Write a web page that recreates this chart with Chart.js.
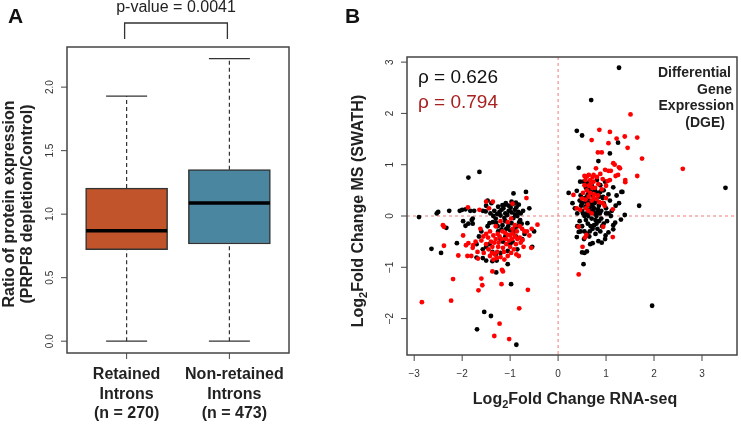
<!DOCTYPE html>
<html lang="en">
<head>
<meta charset="UTF-8">
<title>Retained introns and differential gene expression</title>
<script src="https://cdn.jsdelivr.net/npm/chart.js"></script>
<style>
  body { margin: 0; background: #fff; }
  #wrap { position: relative; width: 741px; height: 424px; overflow: hidden; }
  canvas { position: absolute; top: 0; }
</style>
</head>
<body>
<div id="wrap">
  <canvas id="chartA" width="340" height="424" style="left:0"></canvas>
  <canvas id="chartB" width="401" height="424" style="left:340px"></canvas>
</div>
<script>
const FONT = '"Liberation Sans", Arial, sans-serif';

// ---- panel A: box plot summaries ----
const groupLabels = [['Retained', 'Introns', '(n = 270)'], ['Non-retained', 'Introns', '(n = 473)']];
const whiskerLow = [0.0, 0.0];
const q1 = [0.72, 0.765];
const median = [0.87, 1.087];
const q3 = [1.205, 1.35];
const whiskerHigh = [1.93, 2.225];
const yTicksA = [0, 0.5, 1, 1.5, 2];
const pValueText = 'p-value = 0.0041';

// ---- panel B: log2 fold changes (RNA-seq, MS) ----
const xTicksB = [-3, -2, -1, 0, 1, 2, 3];
const yTicksB = [-2, -1, 0, 1, 2, 3];
const rhoAll = 'ρ = 0.626';
const rhoRed = 'ρ = 0.794';
const dgeLines = ['Differential', 'Gene', 'Expression', '(DGE)'];

const dgeBlack = [
  [-2.9,-0.02],[-2.53,0.05],[-2.5,0.08],[-2.27,0.1],[-2.05,0.1],[-2.0,0.12],[-1.93,0.13],[-1.83,0.1],
  [-1.87,0.75],[-1.64,0.86],[-1.98,-0.1],[-1.93,-0.19],[-1.87,-0.15],[-1.78,-0.15],[-2.33,-0.23],
  [-2.64,-0.64],[-2.44,-0.72],[-2.11,-0.53],[-1.54,-1.87],[-1.4,-1.95],[-1.69,-2.21],[-0.87,-2.51],
  [-0.98,-1.33],[-1.29,-1.1],[-1.05,-0.94],[-1.5,-0.87],[-1.37,-0.88],[-1.28,-0.87],[-1.7,-0.81],[-1.57,-0.82],
  [-1.47,0.30],[-0.93,0.44],[-0.67,0.47],[-0.6,0.15],[-1.75,0.1],[-1.5,0.2],[-1.25,0.18],[-1.18,0.12],
  [-1.1,0.22],[-1.03,0.2],[-0.97,0.28],[-0.9,0.12],[-1.39,0.25],[-1.16,0.21],[-1.09,0.25],[-0.95,0.23],
  [-0.88,0.26],[-1.57,0.1],[-1.51,0.09],
  [-1.35,0.0],[-1.3,-0.05],[-1.27,0.04],[-1.2,0.01],[-1.1,0.05],[-1.03,0.1],[-0.97,0.07],[-0.9,0.03],
  [-0.85,0.0],[-0.83,0.08],[-0.78,0.05],[-1.43,-0.14],[-1.36,-0.12],[-1.29,-0.13],[-1.47,-0.2],
  [-1.78,-0.05],[-1.8,-0.08],[-1.16,-0.18],[-1.1,-0.1],[-1.04,-0.2],[-0.97,-0.14],[-0.91,-0.25],
  [-0.85,-0.2],[-0.79,-0.08],[-0.64,-0.14],[-0.5,-0.3],[-0.54,-0.6],
  [-1.2,-0.45],[-1.15,-0.5],[-1.1,-0.4],[-1.0,-0.55],[-0.95,-0.5],[-0.85,-0.65],[-1.43,-0.55],
  [-1.5,-0.6],[-1.57,-0.65],[-1.37,-0.7],[-1.3,-0.75],[-1.2,-0.72],[-1.05,-0.68],[-0.7,-0.35],
  [-0.75,-0.45],[-1.6,-0.3],[-1.65,-0.4],[-1.7,-0.55],[-1.25,-0.3],[-0.88,-0.4],
  [-1.22,0.08],[-1.14,0.15],[-1.06,0.02],[-0.99,0.16],[-0.93,-0.04],[-0.87,0.17],[-0.81,-0.12],
  [-1.33,0.1],[-1.41,0.05],[-1.26,-0.2],[-1.18,-0.26],[-1.12,-0.04],[-0.93,-0.32],[-1.0,-0.28],
  [-1.08,-0.25],[-0.82,0.22],[-0.76,-0.15],[-0.73,0.1],
  [1.27,2.89],[0.69,2.26],[0.39,1.66],[0.5,1.57],[1.25,1.43],[1.08,1.22],[0.84,1.07],[0.43,0.94],
  [3.49,0.55],[1.69,0.2],[1.96,-1.75],[0.53,-0.94],[0.22,0.45],[1.34,0.47],[1.39,0.02],[1.31,-0.07],
  [1.19,-0.13],[1.15,-0.26],[1.05,-0.32],[0.99,-0.38],[0.98,-0.45],[0.91,-0.52],[0.84,-0.49],
  [0.72,-0.53],[0.67,-0.55],[0.6,-0.69],[0.55,-0.72],[0.5,-0.71],[0.43,-0.31],[0.39,-0.41],
  [0.46,0.67],[0.53,0.67],[0.81,0.70],[0.98,0.67],[1.15,0.56],[1.32,0.47],[0.39,0.49],[0.67,0.54],
  [0.77,0.5],[0.88,0.47],[0.94,0.37],[1.22,0.4],[0.6,0.37],
  [0.45,0.3],[0.5,0.25],[0.55,0.35],[0.6,0.2],[0.65,0.3],[0.7,0.25],[0.75,0.15],[0.8,0.3],[0.85,0.2],
  [0.9,0.1],[0.95,0.25],[1.0,0.15],[1.05,0.05],[0.5,0.1],[0.55,0.0],[0.6,0.05],[0.65,0.12],[0.7,-0.05],
  [0.75,0.05],[0.8,0.0],[0.85,-0.1],[0.9,-0.05],[0.62,-0.15],[0.68,-0.2],[0.75,-0.18],[0.82,-0.25],
  [0.88,-0.3],[0.95,-0.15],[1.02,-0.1],[1.1,0.0],[1.12,0.1],[1.2,0.2],[1.27,0.25],[0.4,0.05],
  [0.35,0.15],[0.3,0.25],[0.45,-0.1],[0.5,-0.2],[0.55,-0.3],[0.6,-0.35],[0.72,0.4],[0.8,0.45],
  [0.68,0.48],[0.58,0.55],[0.62,0.42],[0.7,0.6],[0.88,0.6],[0.78,-0.35],[0.65,-0.4],[0.93,0.35],
  [1.08,0.3],[1.15,-0.18],[0.57,0.18],[0.73,0.1],[0.83,0.13],[0.47,0.4],[0.4,-0.2],[0.6,0.65],
  [0.95,0.5],[1.05,0.42],
  [0.52,0.05],[0.58,-0.08],[0.63,0.0],[0.68,0.08],[0.72,0.18],[0.78,-0.08],[0.82,0.08],[0.87,0.05],
  [0.66,-0.3],[0.72,-0.25],[0.8,-0.15],[0.48,0.2],[0.58,0.28],[0.68,0.2],[0.76,0.25],[0.86,0.38],
  [0.54,-0.45],[0.47,-0.3],[0.92,-0.2],[1.0,0.05]
];

const dgeRed = [
  [-1.88,0.17],[-1.5,0.28],[-1.44,0.15],[-0.95,0.24],[-0.66,0.35],[-2.4,-0.18],[-2.38,-0.21],
  [-1.98,-0.38],[-2.38,-0.58],[-1.92,-0.57],[-1.87,-0.53],[-2.08,-0.77],[-1.89,-0.78],[-1.81,-0.78],
  [-2.19,-1.23],[-2.23,-1.65],[-2.84,-1.68],[-1.77,-0.57],[-1.37,-1.08],[-1.17,-1.05],[-1.15,-1.08],
  [-1.6,-1.22],[-1.58,-1.35],[-1.66,-1.45],[-1.18,-1.33],[-0.63,-1.44],[-0.81,-1.8],[-1.22,-2.1],
  [-1.33,-2.34],[-1.02,-2.4],[-0.43,-0.17],[-0.56,-0.62],[-1.67,-0.83],[-1.36,0.28],[-1.64,0.12],
  [-1.16,-0.3],[-1.1,-0.33],[-1.05,-0.37],[-1.0,-0.38],[-0.95,-0.34],[-0.9,-0.4],[-0.85,-0.45],
  [-0.8,-0.42],[-0.74,-0.47],[-0.7,-0.3],[-0.75,-0.25],[-0.8,-0.2],[-0.9,-0.18],[-1.22,-0.4],
  [-1.3,-0.45],[-1.4,-0.5],[-1.37,-0.6],[-1.33,-0.52],[-1.46,-0.42],[-1.56,-0.4],[-1.6,-0.48],
  [-1.5,-0.55],[-1.25,-0.6],[-1.15,-0.62],[-1.08,-0.55],[-1.0,-0.6],[-0.92,-0.65],[-0.82,-0.78],
  [-0.87,-0.75],[-1.27,-0.7],[-1.32,-0.75],[-1.38,-0.72],[-1.42,-0.78],[-1.28,-0.82],[-1.2,-0.8],
  [-1.12,-0.85],[-1.45,-0.65],[-1.55,-0.72],[-1.72,-0.5],[-1.78,-0.62],[-1.68,-0.7],[-1.62,-0.25],
  [-1.3,-0.2],[-1.2,-0.1],[-1.05,-0.12],[-0.98,-0.05],[-0.65,-0.3],[-0.6,-0.38],[-0.55,-0.25],
  [-0.72,-0.6],[-0.95,-0.25],[-1.42,-0.3],[-1.5,-0.35],
  [-1.26,-0.35],[-1.18,-0.45],[-1.09,-0.45],[-1.02,-0.48],[-0.96,-0.45],[-0.88,-0.55],[-0.78,-0.52],
  [-1.35,-0.38],[-1.24,-0.52],[-1.13,-0.7],[-1.05,-0.78],[-0.98,-0.72],[-1.35,-0.85],[-0.86,-0.3],
  [1.51,1.98],[0.86,1.68],[1.08,1.64],[0.7,1.48],[1.22,1.51],[1.39,1.55],[1.65,1.53],[1.05,1.42],
  [1.45,1.33],[0.83,1.24],[0.91,1.24],[1.75,1.12],[1.15,1.03],[1.18,1.0],[1.27,0.95],[0.79,0.93],
  [0.98,0.9],[1.1,0.88],[1.65,0.78],[2.6,0.92],[1.25,0.8],[0.55,0.78],[0.64,0.8],[0.72,0.76],
  [0.93,0.72],[1.03,0.68],[1.4,0.7],[1.4,0.66],[0.43,-1.14],[0.51,-0.6],[1.14,-0.41],[0.59,-0.37],
  [0.56,-0.42],[0.43,-0.21],[0.94,-0.21],[0.39,0.15],[0.46,0.12],[1.14,0.13],[0.7,0.05],[0.32,0.41],
  [0.5,0.34],[0.57,0.32],[0.64,0.38],[0.7,0.3],[0.8,0.33],[0.86,0.27],[0.93,0.25],[1.0,0.35],
  [0.97,0.2],[0.74,0.8],[0.81,0.76],[0.88,0.82],[0.6,0.77],[0.57,0.70],[0.67,0.70],[0.74,0.67],
  [1.2,0.78],[1.08,0.70],[0.84,0.62],[1.0,0.59],[0.64,0.59],[0.71,0.55],[0.91,0.52],[1.29,0.93],
  [1.05,0.88],[0.6,0.5],[0.67,0.45],[0.75,0.42],[0.55,0.6],[0.62,0.22],[0.77,0.55],[0.52,0.45],
  [0.63,0.1],[0.74,0.35],[0.58,0.15],[0.83,0.4],[0.68,0.62]
];

const boxFill = ['#c1542a', '#4b86a1'];

function line(ctx, x1, y1, x2, y2) {
  ctx.beginPath();
  ctx.moveTo(x1, y1);
  ctx.lineTo(x2, y2);
  ctx.stroke();
}

function vText(ctx, text, x, y, font) {
  ctx.save();
  ctx.translate(x, y);
  ctx.rotate(-Math.PI / 2);
  ctx.font = font;
  ctx.textAlign = 'center';
  ctx.textBaseline = 'middle';
  ctx.fillText(text, 0, 0);
  ctx.restore();
}

// "Log2 ..." with subscript, centred on (0,0) of current transform
function logLabel(ctx, rest) {
  const big = 'bold 16px ' + FONT, small = 'bold 11px ' + FONT;
  ctx.font = big;
  const w1 = ctx.measureText('Log').width;
  const w3 = ctx.measureText(rest).width;
  ctx.font = small;
  const w2 = ctx.measureText('2').width;
  let x = -(w1 + w2 + w3) / 2;
  ctx.textAlign = 'left';
  ctx.textBaseline = 'alphabetic';
  ctx.font = big; ctx.fillText('Log', x, 6); x += w1;
  ctx.font = small; ctx.fillText('2', x, 10); x += w2;
  ctx.font = big; ctx.fillText(rest, x, 6);
}

const fmtMinus = v => String(v).replace('-', '\u2212');

const decorA = {
  id: 'decorA',
  afterDraw(chart) {
    const { ctx, chartArea: a, scales: { x, y } } = chart;
    ctx.save();
    ctx.strokeStyle = '#444';
    ctx.lineWidth = 1.5;
    ctx.strokeRect(a.left, a.top, a.right - a.left, a.bottom - a.top);
    ctx.lineWidth = 1;
    ctx.fillStyle = '#333';
    yTicksA.forEach(v => {
      const py = y.getPixelForValue(v);
      line(ctx, a.left, py, a.left - 6, py);
      vText(ctx, v.toFixed(1), a.left - 17, py, '10px ' + FONT);
    });
    ctx.fillStyle = '#222';
    ctx.font = 'bold 16px ' + FONT;
    ctx.textAlign = 'center';
    ctx.textBaseline = 'middle';
    const labelShift = [0, 5];
    groupLabels.forEach((lines, i) => {
      const px = x.getPixelForValue(i + 1);
      line(ctx, px, a.bottom, px, a.bottom + 6);
      lines.forEach((t, j) => ctx.fillText(t, px + labelShift[i], a.bottom + 22 + j * 19.5));
    });
    // y title
    vText(ctx, 'Ratio of protein expression', 10, (a.top + a.bottom) / 2 + 4, 'bold 16px ' + FONT);
    vText(ctx, '(PRPF8 depletion/Control)', 28, (a.top + a.bottom) / 2 + 4, 'bold 16px ' + FONT);
    // significance bracket
    const b1 = x.getPixelForValue(1) - 2, b2 = x.getPixelForValue(2) - 2;
    ctx.strokeStyle = '#333';
    ctx.lineWidth = 1.3;
    ctx.beginPath();
    ctx.moveTo(b1, 39); ctx.lineTo(b1, 23); ctx.lineTo(b2, 23); ctx.lineTo(b2, 39);
    ctx.stroke();
    ctx.font = '16px ' + FONT;
    ctx.textBaseline = 'alphabetic';
    ctx.fillText(pValueText, (b1 + b2) / 2, 12);
    ctx.font = 'bold 21px ' + FONT;
    ctx.textAlign = 'left';
    ctx.fillStyle = '#111';
    ctx.fillText('A', 8, 23);
    ctx.restore();
  }
};

const decorB = {
  id: 'decorB',
  beforeDatasetsDraw(chart) {
    const { ctx, chartArea: a, scales: { x, y } } = chart;
    ctx.save();
    ctx.strokeStyle = '#f07a7a';
    ctx.lineWidth = 1;
    ctx.setLineDash([3, 3]);
    const x0 = x.getPixelForValue(0), y0 = y.getPixelForValue(0);
    line(ctx, x0, a.top, x0, a.bottom);
    line(ctx, a.left, y0, a.right, y0);
    ctx.restore();
  },
  afterDraw(chart) {
    const { ctx, chartArea: a, scales: { x, y } } = chart;
    ctx.save();
    ctx.strokeStyle = '#444';
    ctx.lineWidth = 1.5;
    ctx.strokeRect(a.left, a.top, a.right - a.left, a.bottom - a.top);
    ctx.lineWidth = 1;
    ctx.fillStyle = '#333';
    yTicksB.forEach(v => {
      const py = y.getPixelForValue(v);
      line(ctx, a.left, py, a.left - 6, py);
      vText(ctx, fmtMinus(v), a.left - 17, py, '10px ' + FONT);
    });
    ctx.font = '10px ' + FONT;
    ctx.textAlign = 'center';
    ctx.textBaseline = 'middle';
    xTicksB.forEach(v => {
      const px = x.getPixelForValue(v);
      line(ctx, px, a.bottom, px, a.bottom + 6);
      ctx.fillText(fmtMinus(v), px, a.bottom + 19);
    });
    ctx.fillStyle = '#222';
    // x title
    ctx.save();
    ctx.translate((a.left + a.right) / 2 + 3, a.bottom + 43);
    logLabel(ctx, 'Fold Change RNA-seq');
    ctx.restore();
    // y title
    ctx.save();
    ctx.translate(17, (a.top + a.bottom) / 2 + 5);
    ctx.rotate(-Math.PI / 2);
    logLabel(ctx, 'Fold Change MS (SWATH)');
    ctx.restore();
    // correlations
    ctx.textAlign = 'left';
    ctx.textBaseline = 'alphabetic';
    ctx.font = '19px ' + FONT;
    ctx.fillStyle = '#111';
    ctx.fillText(rhoAll, a.left + 11, 83);
    ctx.fillStyle = '#a82020';
    ctx.fillText(rhoRed, a.left + 11, 108);
    // DGE label
    ctx.fillStyle = '#222';
    ctx.font = 'bold 14px ' + FONT;
    ctx.textAlign = 'right';
    const rightEdge = [a.right - 6, a.right - 5, a.right - 3, a.right - 12];
    dgeLines.forEach((t, i) => ctx.fillText(t, rightEdge[i], 77 + i * 16.5));
    ctx.font = 'bold 21px ' + FONT;
    ctx.textAlign = 'left';
    ctx.fillStyle = '#111';
    ctx.fillText('B', 5, 23);
    ctx.restore();
  }
};

const common = {
  responsive: false,
  animation: false,
  events: [],
  plugins: { legend: { display: false }, tooltip: { enabled: false } }
};

new Chart(document.getElementById('chartA'), {
  type: 'bar',
  data: {
    datasets: [
      ...[0, 1].flatMap(i => [
        {
          type: 'line', order: 4,
          data: [{ x: i + 1, y: q3[i] }, { x: i + 1, y: whiskerHigh[i] }],
          borderColor: '#333', borderWidth: 1.2, borderDash: [4, 3], pointRadius: 0
        },
        {
          type: 'line', order: 4,
          data: [{ x: i + 1, y: whiskerLow[i] }, { x: i + 1, y: q1[i] }],
          borderColor: '#333', borderWidth: 1.2, borderDash: [4, 3], pointRadius: 0
        }
      ]),
      {
        type: 'bar', order: 3,
        data: [0, 1].map(i => ({ x: i + 1, y: [q1[i], q3[i]] })),
        backgroundColor: boxFill,
        borderColor: '#333', borderWidth: 1.5, borderSkipped: false,
        barThickness: 82
      },
      {
        type: 'scatter', order: 2,
        data: [0, 1].flatMap(i => [{ x: i + 1, y: whiskerLow[i] }, { x: i + 1, y: whiskerHigh[i] }]),
        pointStyle: 'line', pointRadius: 20.5, borderColor: '#333', borderWidth: 1.3
      },
      {
        type: 'scatter', order: 1,
        data: [0, 1].map(i => ({ x: i + 1, y: median[i] })),
        pointStyle: 'line', pointRadius: 40.5, borderColor: '#000', borderWidth: 3.5
      }
    ]
  },
  options: {
    ...common,
    layout: { padding: { left: 67, right: 51, top: 47, bottom: 71 } },
    scales: {
      x: { type: 'linear', min: 0.42, max: 2.58, offset: false, display: false },
      y: { type: 'linear', min: -0.093, max: 2.316, display: false }
    }
  },
  plugins: [decorA]
});

new Chart(document.getElementById('chartB'), {
  type: 'scatter',
  data: {
    datasets: [
      {
        data: dgeBlack.map(([x, y]) => ({ x, y })),
        backgroundColor: '#000', borderWidth: 0, pointRadius: 2.4, order: 2
      },
      {
        data: dgeRed.map(([x, y]) => ({ x, y })),
        backgroundColor: '#ff0000', borderWidth: 0, pointRadius: 2.4, order: 1
      }
    ]
  },
  options: {
    ...common,
    layout: { padding: { left: 67, right: 1, top: 57, bottom: 69 } },
    scales: {
      x: { type: 'linear', min: -3.15, max: 3.73, display: false },
      y: { type: 'linear', min: -2.71, max: 3.10, display: false }
    }
  },
  plugins: [decorB]
});
</script>
</body>
</html>
